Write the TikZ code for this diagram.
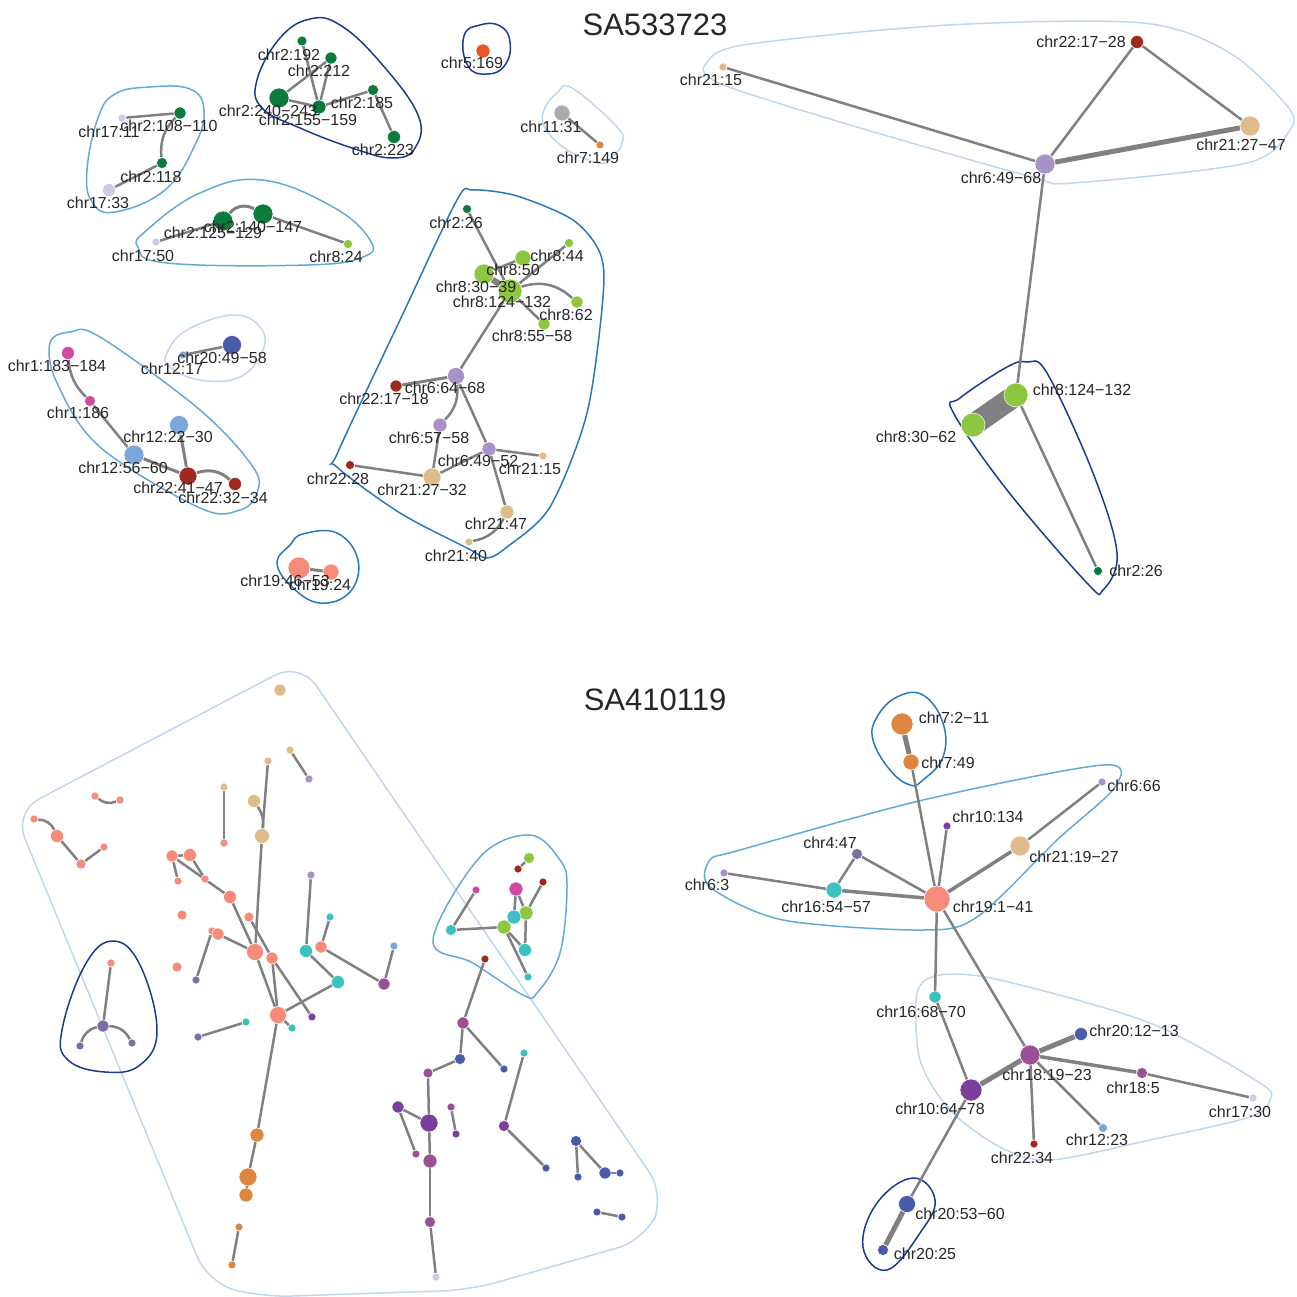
\documentclass[tikz,border=0pt]{standalone}
\usepackage{fontspec}
\setmainfont{Liberation Sans}
\usetikzlibrary{positioning}
\pgfdeclarelayer{hullbg}
\pgfsetlayers{hullbg,main}

\definecolor{chrOne}{RGB}{208,75,160}
\definecolor{chrTwo}{RGB}{12,122,58}
\definecolor{chrFour}{RGB}{122,111,160}
\definecolor{chrFive}{RGB}{232,86,42}
\definecolor{chrSix}{RGB}{168,144,200}
\definecolor{chrSeven}{RGB}{221,134,63}
\definecolor{chrEight}{RGB}{141,198,63}
\definecolor{chrTen}{RGB}{122,63,154}
\definecolor{chrEleven}{RGB}{170,170,175}
\definecolor{chrTwelve}{RGB}{123,167,220}
\definecolor{chrSixteen}{RGB}{60,192,192}
\definecolor{chrSeventeen}{RGB}{213,200,228}
\definecolor{chrEighteen}{RGB}{155,80,149}
\definecolor{chrNineteen}{RGB}{245,139,120}
\definecolor{chrTwenty}{RGB}{74,91,170}
\definecolor{chrTwentyOne}{RGB}{224,188,138}
\definecolor{chrTwentyTwo}{RGB}{158,42,30}
\definecolor{edgegrey}{RGB}{128,128,130}
\definecolor{hullA}{RGB}{190,215,236}
\definecolor{hullB}{RGB}{100,170,215}
\definecolor{hullC}{RGB}{40,120,190}
\definecolor{hullD}{RGB}{25,60,145}

\tikzset{
	vtx/.style={circle, inner sep=0pt, minimum size=#1, draw=white, line width=0.5pt},
	vtx/.default=8pt,
	lbl/.style={inner sep=0pt, text=black!85, font=\fontsize{16}{18}\selectfont},
	ttl/.style={inner sep=0pt, text=black!85, font=\fontsize{31}{34}\selectfont},
	lnk/.style={draw=edgegrey, line width=#1},
	lnk/.default=2.5pt,
	hull/.style={draw=#1, line width=1.5pt}
}

\begin{document}
\begin{tikzpicture}[x=1pt, y=-1pt]
	\useasboundingbox (0,0) rectangle (1297,1296);
	% Titles
	\node [ttl] at (655,25) (t1) {SA533723};
	\node [ttl] at (655,700) (t2) {SA410119};

	% Draw the nodes
	% Top: chr2 group
	\node [vtx=10pt, fill=chrTwo] at (302,41) (c2-192) {};
	\node [vtx=12pt, fill=chrTwo] at (331,58) (c2-212) {};
	\node [vtx=20pt, fill=chrTwo] at (279,98) (c2-240) {};
	\node [vtx=14pt, fill=chrTwo] at (319,107) (c2-155) {};
	\node [vtx=11pt, fill=chrTwo] at (373,90) (c2-185) {};
	\node [vtx=13pt, fill=chrTwo] at (394,137) (c2-223) {};
	% Top: chr17 / chr2 groups
	\node [vtx=8pt, fill=chrSeventeen] at (122,118) (c17-11) {};
	\node [vtx=12pt, fill=chrTwo] at (180,113) (c2-108) {};
	\node [vtx=11pt, fill=chrTwo] at (162,163) (c2-118) {};
	\node [vtx=13pt, fill=chrSeventeen] at (109,190) (c17-33) {};
	\node [vtx=8pt, fill=chrSeventeen] at (156,242) (c17-50) {};
	\node [vtx=20pt, fill=chrTwo] at (223,221) (c2-125) {};
	\node [vtx=20pt, fill=chrTwo] at (263,214) (c2-140) {};
	\node [vtx=9pt, fill=chrEight] at (348,244) (c8-24) {};
	% Top: singles
	\node [vtx=14pt, fill=chrFive] at (483,51) (c5-169) {};
	\node [vtx=16pt, fill=chrEleven] at (562,113) (c11-31) {};
	\node [vtx=8pt, fill=chrSeven] at (600,145) (c7-149) {};
	% Top: chr8 / chr6 / chr21 group
	\node [vtx=9pt, fill=chrTwo] at (467,209) (c2-26) {};
	\node [vtx=9pt, fill=chrEight] at (569,243) (c8-44) {};
	\node [vtx=16pt, fill=chrEight] at (523,258) (c8-50) {};
	\node [vtx=20pt, fill=chrEight] at (484,274) (c8-30) {};
	\node [vtx=24pt, fill=chrEight] at (510,291) (c8-124) {};
	\node [vtx=12pt, fill=chrEight] at (577,302) (c8-62) {};
	\node [vtx=12pt, fill=chrEight] at (544,324) (c8-55) {};
	\node [vtx=17pt, fill=chrSix] at (456,376) (c6-64) {};
	\node [vtx=12pt, fill=chrTwentyTwo] at (396,386) (c22-17) {};
	\node [vtx=14pt, fill=chrSix] at (440,425) (c6-57) {};
	\node [vtx=14pt, fill=chrSix] at (489,449) (c6-49) {};
	\node [vtx=8pt, fill=chrTwentyOne] at (543,456) (c21-15) {};
	\node [vtx=9pt, fill=chrTwentyTwo] at (350,465) (c22-28) {};
	\node [vtx=18pt, fill=chrTwentyOne] at (432,477) (c21-27) {};
	\node [vtx=14pt, fill=chrTwentyOne] at (507,512) (c21-47) {};
	\node [vtx=8pt, fill=chrTwentyOne] at (469,542) (c21-40) {};
	% Top: chr1 / chr12 / chr22 group
	\node [vtx=13pt, fill=chrOne] at (68,353) (c1-183) {};
	\node [vtx=11pt, fill=chrOne] at (90,401) (c1-186) {};
	\node [vtx=19pt, fill=chrTwelve] at (179,425) (c12-22) {};
	\node [vtx=20pt, fill=chrTwelve] at (134,455) (c12-56) {};
	\node [vtx=18pt, fill=chrTwentyTwo] at (188,476) (c22-41) {};
	\node [vtx=13pt, fill=chrTwentyTwo] at (235,484) (c22-32) {};
	\node [vtx=8pt, fill=chrTwelve] at (183,355) (c12-17) {};
	\node [vtx=19pt, fill=chrTwenty] at (232,345) (c20-49) {};
	% Top: chr19 pair
	\node [vtx=22pt, fill=chrNineteen] at (299,568) (c19-46) {};
	\node [vtx=16pt, fill=chrNineteen] at (331,572) (c19-24) {};
	% Top right
	\node [vtx=8pt, fill=chrTwentyOne] at (723,67) (r21-15) {};
	\node [vtx=13pt, fill=chrTwentyTwo] at (1137,42) (r22-17) {};
	\node [vtx=20pt, fill=chrTwentyOne] at (1250,126) (r21-27) {};
	\node [vtx=20pt, fill=chrSix] at (1045,164) (r6-49) {};
	\node [vtx=24pt, fill=chrEight] at (1016,395) (r8-124) {};
	\node [vtx=24pt, fill=chrEight] at (973,425) (r8-30) {};
	\node [vtx=9pt, fill=chrTwo] at (1098,571) (r2-26) {};

	% Bottom right
	\node [vtx=22pt, fill=chrSeven] at (902,724) (b7-2) {};
	\node [vtx=16pt, fill=chrSeven] at (911,762) (b7-49) {};
	\node [vtx=8pt, fill=chrSix] at (1102,782) (b6-66) {};
	\node [vtx=8pt, fill=chrTen] at (947,826) (b10-134) {};
	\node [vtx=11pt, fill=chrFour] at (857,854) (b4-47) {};
	\node [vtx=20pt, fill=chrTwentyOne] at (1020,846) (b21-19) {};
	\node [vtx=8pt, fill=chrSix] at (724,873) (b6-3) {};
	\node [vtx=16pt, fill=chrSixteen] at (834,890) (b16-54) {};
	\node [vtx=26pt, fill=chrNineteen] at (937,899) (b19-1) {};
	\node [vtx=12pt, fill=chrSixteen] at (935,997) (b16-68) {};
	\node [vtx=20pt, fill=chrEighteen] at (1030,1055) (b18-19) {};
	\node [vtx=13pt, fill=chrTwenty] at (1081,1034) (b20-12) {};
	\node [vtx=11pt, fill=chrEighteen] at (1142,1073) (b18-5) {};
	\node [vtx=8pt, fill=chrSeventeen] at (1253,1098) (b17-30) {};
	\node [vtx=22pt, fill=chrTen] at (971,1090) (b10-64) {};
	\node [vtx=9pt, fill=chrTwelve] at (1103,1128) (b12-23) {};
	\node [vtx=8pt, fill=chrTwentyTwo] at (1034,1144) (b22-34) {};
	\node [vtx=17pt, fill=chrTwenty] at (907,1204) (b20-53) {};
	\node [vtx=11pt, fill=chrTwenty] at (883,1250) (b20-25) {};

	% Bottom left (no labels)
	\node [vtx=12pt, fill=chrTwentyOne] at (280,690) (u1) {};
	\node [vtx=8pt, fill=chrTwentyOne] at (290,750) (u2) {};
	\node [vtx=8pt, fill=chrSix] at (309,779) (u3) {};
	\node [vtx=8pt, fill=chrTwentyOne] at (268,761) (u4) {};
	\node [vtx=15pt, fill=chrTwentyOne] at (262,836) (u5) {};
	\node [vtx=13pt, fill=chrTwentyOne] at (254,801) (u6) {};
	\node [vtx=8pt, fill=chrTwentyOne] at (224,787) (u7) {};
	\node [vtx=8pt, fill=chrNineteen] at (224,843) (u8) {};
	\node [vtx=8pt, fill=chrNineteen] at (95,796) (u9) {};
	\node [vtx=8pt, fill=chrNineteen] at (120,800) (u10) {};
	\node [vtx=8pt, fill=chrNineteen] at (34,819) (u11) {};
	\node [vtx=13pt, fill=chrNineteen] at (57,836) (u12) {};
	\node [vtx=10pt, fill=chrNineteen] at (81,864) (u13) {};
	\node [vtx=8pt, fill=chrNineteen] at (104,847) (u14) {};
	\node [vtx=12pt, fill=chrNineteen] at (172,856) (u15) {};
	\node [vtx=13pt, fill=chrNineteen] at (190,855) (u16) {};
	\node [vtx=8pt, fill=chrNineteen] at (178,881) (u17) {};
	\node [vtx=8pt, fill=chrNineteen] at (205,879) (u18) {};
	\node [vtx=13pt, fill=chrNineteen] at (230,897) (u19) {};
	\node [vtx=10pt, fill=chrNineteen] at (182,915) (u20) {};
	\node [vtx=17pt, fill=chrNineteen] at (255,952) (u21) {};
	\node [vtx=10pt, fill=chrNineteen] at (249,917) (u22) {};
	\node [vtx=12pt, fill=chrNineteen] at (272,958) (u23) {};
	\node [vtx=8pt, fill=chrTen] at (312,1017) (u24) {};
	\node [vtx=8pt, fill=chrNineteen] at (212,931) (u26) {};
	\node [vtx=12pt, fill=chrNineteen] at (218,934) (u25) {};
	\node [vtx=8pt, fill=chrFour] at (196,980) (u27) {};
	\node [vtx=10pt, fill=chrNineteen] at (177,967) (u28) {};
	\node [vtx=8pt, fill=chrSix] at (311,875) (u29) {};
	\node [vtx=13pt, fill=chrSixteen] at (306,951) (u30) {};
	\node [vtx=8pt, fill=chrSixteen] at (330,917) (u31) {};
	\node [vtx=12pt, fill=chrNineteen] at (321,947) (u32) {};
	\node [vtx=13pt, fill=chrSixteen] at (338,982) (u33) {};
	\node [vtx=12pt, fill=chrEighteen] at (384,984) (u34) {};
	\node [vtx=8pt, fill=chrTwelve] at (394,946) (u35) {};
	\node [vtx=17pt, fill=chrNineteen] at (278,1015) (u36) {};
	\node [vtx=8pt, fill=chrSixteen] at (292,1028) (u37) {};
	\node [vtx=8pt, fill=chrFour] at (198,1037) (u38) {};
	\node [vtx=8pt, fill=chrSixteen] at (246,1022) (u39) {};
	\node [vtx=14pt, fill=chrSeven] at (257,1135) (u40) {};
	\node [vtx=18pt, fill=chrSeven] at (248,1177) (u41) {};
	\node [vtx=14pt, fill=chrSeven] at (246,1195) (u42) {};
	\node [vtx=8pt, fill=chrSeven] at (239,1227) (u43) {};
	\node [vtx=8pt, fill=chrSeven] at (232,1265) (u44) {};
	\node [vtx=8pt, fill=chrNineteen] at (111,963) (u45) {};
	\node [vtx=12pt, fill=chrFour] at (103,1026) (u46) {};
	\node [vtx=8pt, fill=chrFour] at (80,1046) (u47) {};
	\node [vtx=8pt, fill=chrFour] at (132,1043) (u48) {};
	% Bottom middle: mixed group
	\node [vtx=11pt, fill=chrEight] at (529,858) (u49) {};
	\node [vtx=8pt, fill=chrTwentyTwo] at (518,869) (u50) {};
	\node [vtx=8pt, fill=chrTwentyTwo] at (543,882) (u51) {};
	\node [vtx=8pt, fill=chrOne] at (476,890) (u52) {};
	\node [vtx=14pt, fill=chrOne] at (516,889) (u53) {};
	\node [vtx=14pt, fill=chrEight] at (526,913) (u55) {};
	\node [vtx=14pt, fill=chrSixteen] at (514,917) (u54) {};
	\node [vtx=14pt, fill=chrEight] at (504,927) (u56) {};
	\node [vtx=11pt, fill=chrSixteen] at (451,930) (u57) {};
	\node [vtx=13pt, fill=chrSixteen] at (525,950) (u58) {};
	\node [vtx=8pt, fill=chrSixteen] at (528,977) (u59) {};
	% Bottom middle: purple chains
	\node [vtx=8pt, fill=chrTwentyTwo] at (485,959) (u60) {};
	\node [vtx=12pt, fill=chrEighteen] at (463,1023) (u61) {};
	\node [vtx=11pt, fill=chrTwenty] at (460,1059) (u62) {};
	\node [vtx=8pt, fill=chrTwenty] at (504,1069) (u63) {};
	\node [vtx=10pt, fill=chrEighteen] at (428,1073) (u64) {};
	\node [vtx=18pt, fill=chrTen] at (429,1123) (u65) {};
	\node [vtx=12pt, fill=chrTen] at (398,1107) (u66) {};
	\node [vtx=8pt, fill=chrEighteen] at (416,1154) (u67) {};
	\node [vtx=14pt, fill=chrEighteen] at (430,1161) (u68) {};
	\node [vtx=11pt, fill=chrEighteen] at (430,1222) (u69) {};
	\node [vtx=8pt, fill=chrSeventeen] at (436,1277) (u70) {};
	\node [vtx=8pt, fill=chrEighteen] at (451,1107) (u71) {};
	\node [vtx=8pt, fill=chrTen] at (456,1134) (u72) {};
	\node [vtx=8pt, fill=chrSixteen] at (524,1053) (u73) {};
	\node [vtx=11pt, fill=chrTen] at (504,1126) (u74) {};
	\node [vtx=8pt, fill=chrTwenty] at (546,1168) (u75) {};
	\node [vtx=11pt, fill=chrTwenty] at (576,1141) (u76) {};
	\node [vtx=8pt, fill=chrTwenty] at (578,1177) (u77) {};
	\node [vtx=12pt, fill=chrTwenty] at (605,1173) (u78) {};
	\node [vtx=8pt, fill=chrTwenty] at (620,1173) (u79) {};
	\node [vtx=8pt, fill=chrTwenty] at (597,1212) (u80) {};
	\node [vtx=8pt, fill=chrTwenty] at (622,1217) (u81) {};

	% Labels
	\node [lbl] at (289,55) (l2-192) {chr2:192};
	\node [lbl] at (319,71) (l2-212) {chr2:212};
	\node [lbl] at (268,111) (l2-240) {chr2:240−243};
	\node [lbl] at (308,120) (l2-155) {chr2:155−159};
	\node [lbl] at (362,103) (l2-185) {chr2:185};
	\node [lbl] at (383,150) (l2-223) {chr2:223};
	\node [lbl] at (109,132) (l17-11) {chr17:11};
	\node [lbl] at (169,126) (l2-108) {chr2:108−110};
	\node [lbl] at (151,177) (l2-118) {chr2:118};
	\node [lbl] at (98,203) (l17-33) {chr17:33};
	\node [lbl] at (143,256) (l17-50) {chr17:50};
	\node [lbl] at (213,233) (l2-125) {chr2:125−129};
	\node [lbl] at (253,227) (l2-140) {chr2:140−147};
	\node [lbl] at (336,257) (l8-24) {chr8:24};
	\node [lbl] at (472,63) (l5-169) {chr5:169};
	\node [lbl] at (551,127) (l11-31) {chr11:31};
	\node [lbl] at (588,158) (l7-149) {chr7:149};
	\node [lbl] at (456,223) (l2-26) {chr2:26};
	\node [lbl] at (557,256) (l8-44) {chr8:44};
	\node [lbl] at (513,270) (l8-50) {chr8:50};
	\node [lbl] at (476,287) (l8-30) {chr8:30−39};
	\node [lbl] at (502,302) (l8-124) {chr8:124−132};
	\node [lbl] at (566,315) (l8-62) {chr8:62};
	\node [lbl] at (532,336) (l8-55) {chr8:55−58};
	\node [lbl] at (445,388) (l6-64) {chr6:64−68};
	\node [lbl] at (384,399) (l22-17) {chr22:17−18};
	\node [lbl] at (429,438) (l6-57) {chr6:57−58};
	\node [lbl] at (478,461) (l6-49) {chr6:49−52};
	\node [lbl] at (530,469) (l21-15) {chr21:15};
	\node [lbl] at (338,479) (l22-28) {chr22:28};
	\node [lbl] at (422,490) (l21-27) {chr21:27−32};
	\node [lbl] at (496,524) (l21-47) {chr21:47};
	\node [lbl] at (456,556) (l21-40) {chr21:40};
	\node [lbl] at (57,366) (l1-183) {chr1:183−184};
	\node [lbl] at (78,413) (l1-186) {chr1:186};
	\node [lbl] at (168,437) (l12-22) {chr12:22−30};
	\node [lbl] at (123,468) (l12-56) {chr12:56−60};
	\node [lbl] at (178,488) (l22-41) {chr22:41−47};
	\node [lbl] at (223,498) (l22-32) {chr22:32−34};
	\node [lbl] at (172,369) (l12-17) {chr12:17};
	\node [lbl] at (222,358) (l20-49) {chr20:49−58};
	\node [lbl] at (285,581) (l19-46) {chr19:46−53};
	\node [lbl] at (320,585) (l19-24) {chr19:24};
	\node [lbl] at (711,80) (lr21-15) {chr21:15};
	\node [lbl] at (1081,42) (lr22-17) {chr22:17−28};
	\node [lbl] at (1241,145) (lr21-27) {chr21:27−47};
	\node [lbl] at (1001,178) (lr6-49) {chr6:49−68};
	\node [lbl] at (1082,390) (lr8-124) {chr8:124−132};
	\node [lbl] at (916,437) (lr8-30) {chr8:30−62};
	\node [lbl] at (1136,571) (lr2-26) {chr2:26};
	\node [lbl] at (954,718) (lb7-2) {chr7:2−11};
	\node [lbl] at (948,763) (lb7-49) {chr7:49};
	\node [lbl] at (1134,786) (lb6-66) {chr6:66};
	\node [lbl] at (988,817) (lb10-134) {chr10:134};
	\node [lbl] at (830,843) (lb4-47) {chr4:47};
	\node [lbl] at (1074,857) (lb21-19) {chr21:19−27};
	\node [lbl] at (707,885) (lb6-3) {chr6:3};
	\node [lbl] at (826,907) (lb16-54) {chr16:54−57};
	\node [lbl] at (993,907) (lb19-1) {chr19:1−41};
	\node [lbl] at (921,1012) (lb16-68) {chr16:68−70};
	\node [lbl] at (1047,1075) (lb18-19) {chr18:19−23};
	\node [lbl] at (1134,1031) (lb20-12) {chr20:12−13};
	\node [lbl] at (1133,1088) (lb18-5) {chr18:5};
	\node [lbl] at (1240,1112) (lb17-30) {chr17:30};
	\node [lbl] at (940,1109) (lb10-64) {chr10:64−78};
	\node [lbl] at (1097,1140) (lb12-23) {chr12:23};
	\node [lbl] at (1022,1158) (lb22-34) {chr22:34};
	\node [lbl] at (960,1214) (lb20-53) {chr20:53−60};
	\node [lbl] at (925,1254) (lb20-25) {chr20:25};

	\begin{pgfonlayer}{hullbg}
	% Hulls
	\draw [hull=hullD] plot [smooth cycle, tension=0.7] coordinates {(310,19) (340,25) (380,62) (418,115) (415,148) (393,158) (355,149) (300,128) (262,108) (257,80) (280,38)};
	\draw [hull=hullB] plot [smooth cycle, tension=0.7] coordinates {(150,87) (190,89) (204,110) (195,145) (165,190) (115,212) (92,202) (87,170) (98,118) (115,94)};
	\draw [hull=hullB] plot [smooth cycle, tension=0.7] coordinates {(200,193) (262,180) (333,207) (370,240) (363,257) (307,265) (167,263) (138,247) (147,230)};
	\draw [hull=hullD] plot [smooth cycle, tension=0.8] coordinates {(464,36) (480,25) (500,26) (510,42) (505,65) (487,74) (468,66)};
	\draw [hull=hullA] plot [smooth cycle, tension=0.7] coordinates {(545,108) (557,93) (572,88) (617,127) (622,143) (612,157) (598,163) (563,147) (544,125)};
	\draw [hull=hullC] plot [smooth cycle, tension=0.5] coordinates {(473,190) (517,196) (573,220) (600,253) (603,297) (587,413) (550,507) (507,547) (487,558) (467,548) (400,513) (337,467) (338,452) (400,320) (457,200)};
	\draw [hull=hullB] plot [smooth cycle, tension=0.6] coordinates {(50,343) (70,332) (100,337) (200,410) (253,467) (257,493) (240,510) (200,508) (100,447) (57,383)};
	\draw [hull=hullA] plot [smooth cycle, tension=0.7] coordinates {(167,353) (187,330) (233,315) (260,327) (263,350) (240,377) (200,380) (170,367)};
	\draw [hull=hullC] plot [smooth cycle, tension=0.7] coordinates {(277,563) (290,545) (303,534) (337,533) (358,560) (350,592) (320,603) (292,587)};
	\draw [hull=hullA] plot [smooth cycle, tension=0.5] coordinates {(705,65) (743,45) (949,25) (1143,23) (1230,53) (1288,107) (1290,130) (1247,163) (1073,183) (1032,177) (867,130) (743,92) (710,78)};
	\draw [hull=hullD] plot [smooth cycle, tension=0.6] coordinates {(1027,362) (1047,373) (1093,473) (1117,553) (1103,590) (1087,583) (1007,490) (953,412) (960,398) (1007,367)};
	\draw [hull=hullC] plot [smooth cycle, tension=0.7] coordinates {(877,717) (897,697) (923,695) (943,723) (943,757) (923,780) (910,785) (890,770) (873,740)};
	\draw [hull=hullB] plot [smooth cycle, tension=0.5] coordinates {(710,860) (740,850) (923,800) (1103,765) (1115,787) (1057,840) (977,917) (923,930) (783,920) (710,887)};
	\draw [hull=hullA] plot [smooth cycle, tension=0.5] coordinates {(917,993) (940,975) (1000,980) (1150,1023) (1260,1083) (1270,1100) (1250,1117) (1150,1140) (1050,1160) (1000,1147) (950,1110) (920,1060)};
	\draw [hull=hullD] plot [smooth cycle, tension=0.7] coordinates {(913,1178) (935,1200) (920,1233) (887,1270) (863,1247) (877,1203)};
	\draw [hull=hullA, rounded corners=28pt] (14,812) -- (300,662) -- (665,1195) -- (645,1240) -- (470,1290) -- (262,1297) -- (208,1283) -- cycle;
	\draw [hull=hullD] plot [smooth cycle, tension=0.7] coordinates {(113,941) (140,965) (157,1030) (140,1065) (105,1072) (68,1060) (62,1030) (85,965)};
	\draw [hull=hullB] plot [smooth cycle, tension=0.6] coordinates {(433,940) (480,857) (530,835) (560,860) (567,887) (560,953) (537,993) (523,995) (473,963)};

	% Draw the paths between nodes
	\draw [lnk] (c2-192) -- (c2-155);
	\draw [lnk] (c2-212) -- (c2-155);
	\draw [lnk] (c2-212) -- (c2-240);
	\draw [lnk] (c2-240) -- (c2-155);
	\draw [lnk] (c2-185) -- (c2-155);
	\draw [lnk] (c2-185) -- (c2-223);
	\draw [lnk] (c17-11) -- (c2-108);
	\draw [lnk] (c2-108) to [bend right=25] (c2-118);
	\draw [lnk] (c2-118) -- (c17-33);
	\draw [lnk] (c17-50) -- (c2-125);
	\draw [lnk=3pt] (c2-125) to [bend left=40] (c2-140);
	\draw [lnk] (c2-140) -- (c8-24);
	\draw [lnk] (c11-31) -- (c7-149);
	\draw [lnk] (c2-26) -- (c8-124);
	\draw [lnk] (c8-44) -- (c8-124);
	\draw [lnk] (c8-30) -- (c8-50);
	\draw [lnk=6pt, line cap=round] (c8-30.center) -- (c8-124.center);
	\draw [lnk] (c8-62) to [bend right=30] (c8-124);
	\draw [lnk] (c8-55) -- (c8-124);
	\draw [lnk] (c8-124) -- (c6-64);
	\draw [lnk=3pt] (c6-64) -- (c22-17);
	\draw [lnk] (c6-64) to [bend left=25] (c6-57);
	\draw [lnk] (c6-64) -- (c6-49);
	\draw [lnk] (c6-49) -- (c21-15);
	\draw [lnk] (c6-49) -- (c21-27);
	\draw [lnk] (c6-57) -- (c21-27);
	\draw [lnk] (c22-28) -- (c21-27);
	\draw [lnk] (c6-49) -- (c21-47);
	\draw [lnk] (c21-47) to [bend left=25] (c21-40);
	\draw [lnk] (c1-183) to [bend right=20] (c1-186);
	\draw [lnk] (c1-186) -- (c12-56);
	\draw [lnk=3pt] (c12-56) -- (c22-41);
	\draw [lnk=3pt] (c12-22) -- (c22-41);
	\draw [lnk=3pt] (c22-41) to [bend left=30] (c22-32);
	\draw [lnk] (c12-17) -- (c20-49);
	\draw [lnk=3pt] (c19-46) -- (c19-24);
	\draw [lnk] (r21-15) -- (r6-49);
	\draw [lnk] (r22-17) -- (r6-49);
	\draw [lnk] (r22-17) -- (r21-27);
	\draw [lnk=5pt] (r6-49) -- (r21-27);
	\draw [lnk] (r6-49) -- (r8-124);
	\draw [lnk=22pt, line cap=round] (r8-124.center) -- (r8-30.center);
	\draw [lnk] (r8-124) -- (r2-26);
	\draw [lnk=5pt] (b7-2) -- (b7-49);
	\draw [lnk] (b7-49) -- (b19-1);
	\draw [lnk] (b10-134) -- (b19-1);
	\draw [lnk=3.5pt] (b21-19) -- (b19-1);
	\draw [lnk] (b6-66) -- (b21-19);
	\draw [lnk] (b4-47) -- (b19-1);
	\draw [lnk] (b4-47) -- (b16-54);
	\draw [lnk] (b6-3) -- (b16-54);
	\draw [lnk=3.5pt] (b16-54) -- (b19-1);
	\draw [lnk] (b19-1) -- (b16-68);
	\draw [lnk] (b19-1) -- (b18-19);
	\draw [lnk] (b16-68) -- (b10-64);
	\draw [lnk=5pt] (b18-19) -- (b10-64);
	\draw [lnk=5pt] (b18-19) -- (b20-12);
	\draw [lnk=3.5pt] (b18-19) -- (b18-5);
	\draw [lnk] (b18-5) -- (b17-30);
	\draw [lnk] (b18-19) -- (b12-23);
	\draw [lnk] (b18-19) -- (b22-34);
	\draw [lnk] (b10-64) -- (b20-53);
	\draw [lnk=5pt] (b20-53) -- (b20-25);
	\draw [lnk] (u2) -- (u3);
	\draw [lnk] (u4) -- (u5);
	\draw [lnk] (u6) to [bend left=20] (u5);
	\draw [lnk] (u7) -- (u8);
	\draw [lnk] (u9) to [bend right=30] (u10);
	\draw [lnk] (u11) to [bend left=30] (u12);
	\draw [lnk] (u12) -- (u13);
	\draw [lnk] (u13) -- (u14);
	\draw [lnk] (u15) -- (u16);
	\draw [lnk] (u15) -- (u17);
	\draw [lnk] (u16) -- (u18);
	\draw [lnk] (u15) -- (u19);
	\draw [lnk] (u19) -- (u21);
	\draw [lnk] (u22) -- (u23);
	\draw [lnk] (u23) -- (u24);
	\draw [lnk] (u25) -- (u21);
	\draw [lnk] (u26) -- (u27);
	\draw [lnk] (u5) -- (u21);
	\draw [lnk] (u29) -- (u30);
	\draw [lnk] (u31) -- (u32);
	\draw [lnk] (u30) -- (u33);
	\draw [lnk] (u32) -- (u34);
	\draw [lnk] (u35) -- (u34);
	\draw [lnk] (u21) -- (u36);
	\draw [lnk] (u23) -- (u36);
	\draw [lnk] (u36) -- (u33);
	\draw [lnk] (u36) -- (u37);
	\draw [lnk] (u38) -- (u39);
	\draw [lnk] (u36) -- (u40);
	\draw [lnk] (u40) -- (u41);
	\draw [lnk] (u41) -- (u42);
	\draw [lnk] (u43) -- (u44);
	\draw [lnk] (u45) -- (u46);
	\draw [lnk] (u46) to [bend right=30] (u47);
	\draw [lnk] (u46) to [bend left=30] (u48);
	\draw [lnk] (u49) -- (u50);
	\draw [lnk] (u52) -- (u57);
	\draw [lnk] (u57) -- (u56);
	\draw [lnk] (u53) -- (u54);
	\draw [lnk] (u51) -- (u55);
	\draw [lnk] (u53) -- (u55);
	\draw [lnk] (u55) -- (u58);
	\draw [lnk] (u56) -- (u58);
	\draw [lnk] (u56) -- (u59);
	\draw [lnk] (u54) -- (u56);
	\draw [lnk] (u60) -- (u61);
	\draw [lnk] (u61) -- (u62);
	\draw [lnk] (u61) -- (u63);
	\draw [lnk] (u62) -- (u64);
	\draw [lnk] (u64) -- (u65);
	\draw [lnk] (u66) -- (u65);
	\draw [lnk] (u66) -- (u67);
	\draw [lnk] (u65) -- (u68);
	\draw [lnk] (u68) -- (u69);
	\draw [lnk] (u69) -- (u70);
	\draw [lnk] (u71) -- (u72);
	\draw [lnk] (u73) -- (u74);
	\draw [lnk] (u74) -- (u75);
	\draw [lnk] (u76) -- (u77);
	\draw [lnk] (u76) -- (u78);
	\draw [lnk] (u78) -- (u79);
	\draw [lnk] (u80) -- (u81);
	\end{pgfonlayer}
\end{tikzpicture}
\end{document}
